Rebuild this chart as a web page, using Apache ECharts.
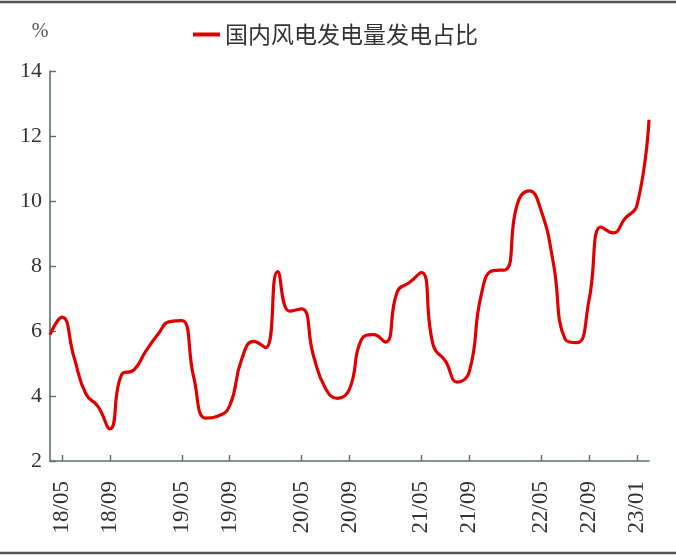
<!DOCTYPE html>
<html>
<head>
<meta charset="utf-8">
<script src="https://cdn.jsdelivr.net/npm/echarts@6/dist/echarts.min.js"></script>
<style>
html,body{margin:0;padding:0;background:#fff;}
#c{width:676px;height:557px;}
</style>
</head>
<body>
<div id="c"></div>
<script>
const categories = [
  '18/04','18/05','18/06','18/07','18/08','18/09','18/10','18/11','18/12',
  '19/03','19/04','19/05','19/06','19/07','19/08','19/09','19/10','19/11','19/12',
  '20/03','20/04','20/05','20/06','20/07','20/08','20/09','20/10','20/11','20/12',
  '21/03','21/04','21/05','21/06','21/07','21/08','21/09','21/10','21/11','21/12',
  '22/03','22/04','22/05','22/06','22/07','22/08','22/09','22/10','22/11','22/12',
  '23/01','23/02'
];
const windShare = [
  5.89, 6.43, 5.20, 4.06, 3.68, 2.99, 4.67, 4.80, 5.38,
  5.89, 6.29, 6.32, 4.57, 3.32, 3.38, 3.70, 5.13, 5.68, 5.49,
  7.83, 6.61, 6.68, 5.23, 4.23, 3.93, 4.21, 5.74, 5.89, 5.66,
  7.22, 7.49, 7.80, 5.55, 5.08, 4.43, 4.75, 7.12, 7.86, 7.88,
  9.90, 10.31, 9.70, 8.13, 5.75, 5.64, 6.96, 9.20, 9.02, 9.46,
  9.87, 12.50
];
const shownLabels = ['18/05','18/09','19/05','19/09','20/05','20/09','21/05','21/09','22/05','22/09','23/01'];
const seriesName = '国内风电发电量发电占比';
const yTicks = { min: 2, max: 14, interval: 2 };

const chart = echarts.init(document.getElementById('c'), null, { renderer: 'canvas' });
const axisColor = '#5d6f6f';
const serif = '"Liberation Serif", "DejaVu Serif", serif';
const showFn = (idx, val) => shownLabels.indexOf(val) >= 0;

chart.setOption({
  animation: false,
  backgroundColor: '#fff',
  graphic: [
    { type: 'line', shape: { x1: 0, y1: 2, x2: 676, y2: 2 }, style: { stroke: '#555', lineWidth: 2.5 } },
    { type: 'line', shape: { x1: 0, y1: 553, x2: 676, y2: 553 }, style: { stroke: '#555', lineWidth: 2.5 } }
  ],
  legend: {
    left: 188,
    top: 18,
    icon: 'rect',
    itemWidth: 27,
    itemHeight: 4,
    itemGap: 10,
    textStyle: { fontFamily: '"Noto Sans CJK SC", sans-serif', fontSize: 23, color: '#333' },
    data: [seriesName]
  },
  grid: { left: 50, right: 27, top: 71, bottom: 96, containLabel: false },
  xAxis: {
    type: 'category',
    data: categories,
    boundaryGap: false,
    axisLine: { lineStyle: { color: axisColor, width: 1.6 } },
    axisTick: { inside: true, length: 6, interval: showFn, lineStyle: { color: axisColor, width: 1.4 } },
    axisLabel: {
      interval: showFn,
      rotate: 90,
      margin: 20,
      fontFamily: serif,
      fontSize: 23,
      color: '#333'
    },
    splitLine: { show: false }
  },
  yAxis: {
    type: 'value',
    min: yTicks.min,
    max: yTicks.max,
    interval: yTicks.interval,
    name: '%',
    nameLocation: 'end',
    nameGap: 29,
    nameTextStyle: { fontFamily: serif, fontSize: 20, color: '#555', padding: [0, 20, 0, 0] },
    axisLine: { show: true, lineStyle: { color: axisColor, width: 1.6 } },
    axisTick: { show: true, inside: true, length: 6, lineStyle: { color: axisColor, width: 1.4 } },
    axisLabel: { margin: 8, fontFamily: serif, fontSize: 22, color: '#333' },
    splitLine: { show: false }
  },
  series: [{
    name: seriesName,
    type: 'line',
    data: windShare,
    smooth: 0.5,
    showSymbol: false,
    symbol: 'none',
    lineStyle: { color: '#e00000', width: 3.2 },
    itemStyle: { color: '#e00000' }
  }]
});
</script>
</body>
</html>
